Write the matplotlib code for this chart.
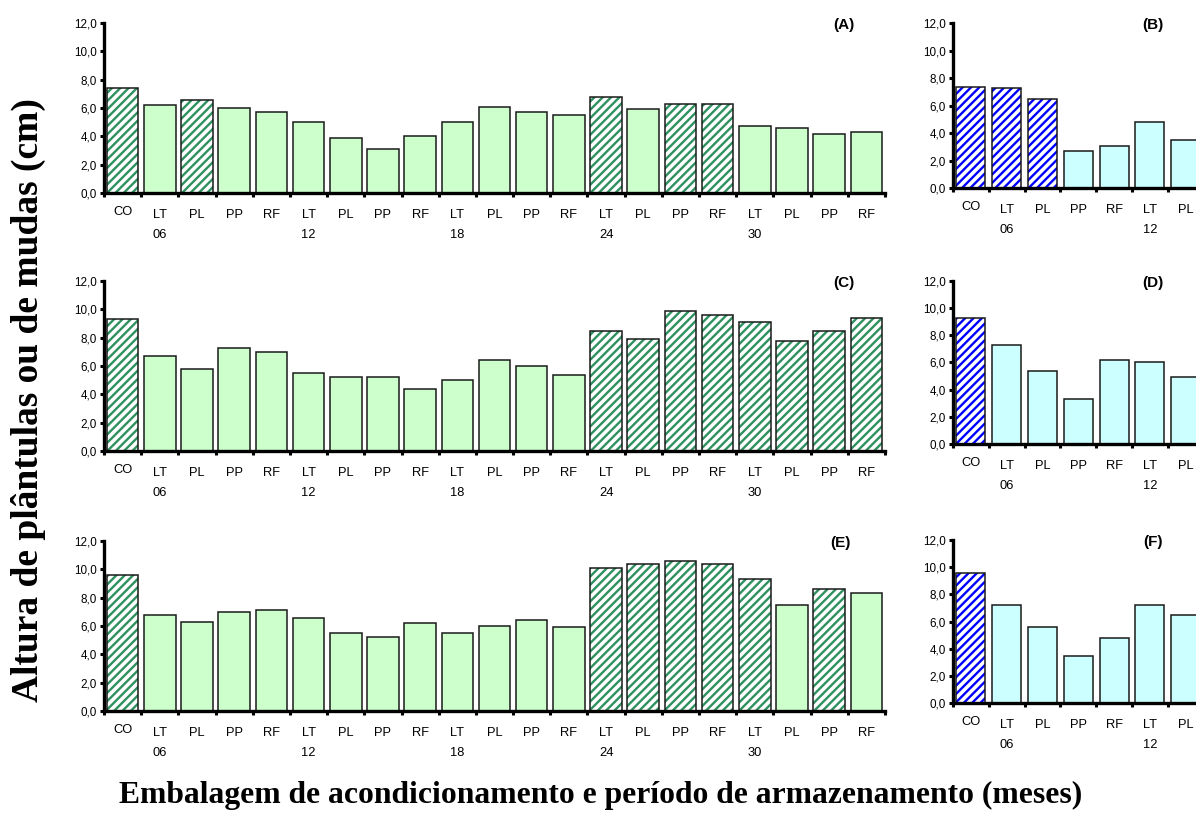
import matplotlib
matplotlib.use('Agg')
import matplotlib.pyplot as plt
import numpy as np
from matplotlib.ticker import FixedLocator, FuncFormatter

plt.rcParams['font.family'] = ['Liberation Sans', 'DejaVu Sans']
plt.rcParams['hatch.linewidth'] = 1.7

# ---------------- data ----------------
categories = ['CO'] + ['LT', 'PL', 'PP', 'RF'] * 5
months = ['06', '12', '18', '24', '30']
month_pos = [1, 5, 9, 13, 17]

vals_A = [7.4, 6.2, 6.6, 6.0, 5.7, 5.0, 3.9, 3.1, 4.0, 5.0, 6.1, 5.7, 5.5,
          6.8, 5.9, 6.3, 6.3, 4.7, 4.6, 4.2, 4.3]
hatch_A = [0, 2, 13, 15, 16]
vals_C = [9.3, 6.7, 5.8, 7.3, 7.0, 5.5, 5.2, 5.2, 4.4, 5.0, 6.4, 6.0, 5.4,
          8.5, 7.9, 9.9, 9.6, 9.1, 7.8, 8.5, 9.4]
hatch_C = [0, 13, 14, 15, 16, 17, 18, 19, 20]
vals_E = [9.6, 6.8, 6.3, 7.0, 7.1, 6.6, 5.5, 5.2, 6.2, 5.5, 6.0, 6.4, 5.9,
          10.1, 10.4, 10.6, 10.4, 9.3, 7.5, 8.6, 8.3]
hatch_E = [0, 13, 14, 15, 16, 17, 19]

vals_B = [7.4, 7.3, 6.5, 2.7, 3.1, 4.8, 3.5]
hatch_B = [0, 1, 2]
vals_D = [9.3, 7.3, 5.4, 3.3, 6.2, 6.0, 4.9]
hatch_D = [0]
vals_F = [9.6, 7.2, 5.6, 3.5, 4.8, 7.2, 6.5]
hatch_F = [0]

GREEN_FILL = '#CCFFCC'
GREEN_HATCH = '#2E9160'
CYAN_FILL = '#CCFFFF'
BLUE_HATCH = '#0000FF'

W, H = 1196, 814
fig = plt.figure(figsize=(W / 100, H / 100), dpi=100)


def add_axes_px(left, y0, y12, width_px):
    return fig.add_axes([left / W, 1 - y0 / H, width_px / W, (y0 - y12) / H])


def fmt(v, pos):
    return f'{v:.1f}'.replace('.', ',')


def draw_panel(ax, values, hatched, fill, hatchcol, barw, label, label_x):
    pos = np.arange(len(values))
    bars = ax.bar(pos, values, width=barw, color=fill, linewidth=0, zorder=2)
    for i, b in enumerate(bars):
        if i in hatched:
            b.set_facecolor('white')
            b.set_edgecolor(hatchcol)
            b.set_hatch('////')
    ax.bar(pos, values, width=barw, fill=False, edgecolor='#1a1a1a',
           linewidth=1.1, zorder=3)
    ax.set_xlim(-0.5, len(categories) - 0.5)
    ax.set_ylim(0, 12)
    ax.set_yticks(range(0, 13, 2))
    ax.yaxis.set_major_formatter(FuncFormatter(fmt))
    ax.xaxis.set_major_locator(FixedLocator(np.arange(-0.5, len(categories), 1)))
    ax.tick_params(axis='x', length=3, width=2.2, labelbottom=False,
                   direction='out', color='black')
    ax.tick_params(axis='y', length=3, width=2.2, labelsize=8.4, pad=2,
                   direction='out', color='black')
    for s in ['top', 'right']:
        ax.spines[s].set_visible(False)
    for s in ['left', 'bottom']:
        ax.spines[s].set_linewidth(2.4)
        ax.spines[s].set_zorder(4)
    # category labels only where they fall inside the figure
    for i, c in enumerate(categories[:len(values)]):
        dy = -13.7 if c == 'CO' else -15.6
        ax.annotate(c, xy=(i, 0), xycoords=('data', 'axes fraction'),
                    xytext=(0, dy), textcoords='offset points',
                    ha='center', va='center', fontsize=9.3)
    for m, p in zip(months, month_pos):
        if p < len(values):
            ax.annotate(m, xy=(p, 0), xycoords=('data', 'axes fraction'),
                        xytext=(0, -30.3), textcoords='offset points',
                        ha='center', va='center', fontsize=9.3)
    ax.text(label_x, 11.85, label, ha='center', va='center',
            fontsize=11, fontweight='bold')


# left panels (A, C, E)
axA = add_axes_px(104, 193, 23, 781)
axC = add_axes_px(104, 451, 281, 781)
axE = add_axes_px(104, 711, 541, 781)
# right panels (B, D, F), cut by the figure edge
axB = add_axes_px(953, 188.3, 23.3, 752)
axD = add_axes_px(953, 444, 280.8, 752)
axF = add_axes_px(953, 703.3, 540, 752)

draw_panel(axA, vals_A, hatch_A, GREEN_FILL, GREEN_HATCH, 0.85, '(A)', 19.4)
draw_panel(axC, vals_C, hatch_C, GREEN_FILL, GREEN_HATCH, 0.85, '(C)', 19.4)
draw_panel(axE, vals_E, hatch_E, GREEN_FILL, GREEN_HATCH, 0.85, '(E)', 19.3)
draw_panel(axB, vals_B, hatch_B, CYAN_FILL, BLUE_HATCH, 0.81, '(B)', 5.09)
draw_panel(axD, vals_D, hatch_D, CYAN_FILL, BLUE_HATCH, 0.81, '(D)', 5.09)
draw_panel(axF, vals_F, hatch_F, CYAN_FILL, BLUE_HATCH, 0.81, '(F)', 5.09)

fig.text(0.024, 0.508, 'Altura de plântulas ou de mudas (cm)', rotation=90,
         ha='center', va='center', family=['Liberation Serif', 'DejaVu Serif'],
         fontweight='bold', fontsize=27)
fig.text(0.502, 0.023,
         'Embalagem de acondicionamento e período de armazenamento (meses)',
         ha='center', va='center', family=['Liberation Serif', 'DejaVu Serif'],
         fontweight='bold', fontsize=22.8)

fig.savefig('out.png', dpi=100)
